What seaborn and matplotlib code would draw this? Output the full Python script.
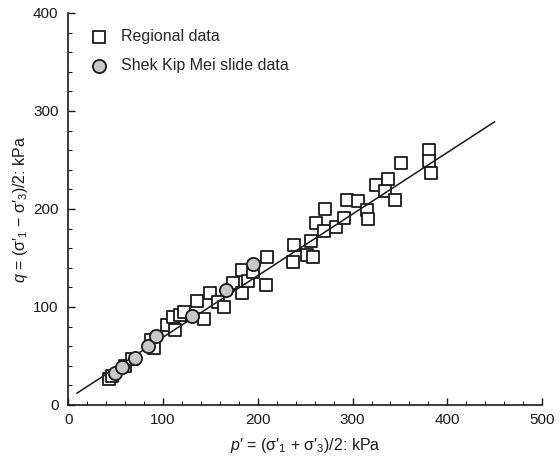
import matplotlib
matplotlib.use("Agg")
import matplotlib.pyplot as plt
import seaborn as sns
import pandas as pd
from matplotlib.ticker import MultipleLocator

# Regional data (p', q) in kPa
regional_p = [43, 46, 60, 67, 87, 90, 104, 113, 111, 118, 122, 136, 143, 150, 158, 164,
              174, 183, 183, 190, 195, 209, 210, 237, 238, 252, 256, 258, 261, 270, 271,
              282, 291, 294, 306, 315, 316, 325, 334, 337, 345, 351, 381, 381, 383]
regional_q = [27, 30, 40, 47, 66, 58, 82, 76, 90, 92, 95, 106, 88, 114, 105, 100,
              124, 114, 138, 126, 136, 122, 151, 146, 163, 153, 167, 151, 186, 177, 200,
              182, 191, 209, 208, 199, 190, 224, 218, 231, 209, 247, 260, 249, 237]

# Shek Kip Mei slide data
skm_p = [49, 57, 70, 84, 93, 131, 166, 195]
skm_q = [33, 39, 48, 60, 70, 91, 117, 144]

# Fitted line end points
fit_p = [9, 450]
fit_q = [12, 289]

sns.set_theme(style="white")
plt.rcParams['font.family'] = ['Liberation Sans', 'DejaVu Sans']
plt.rcParams['mathtext.fontset'] = 'custom'
plt.rcParams['mathtext.rm'] = 'Liberation Sans'
plt.rcParams['mathtext.it'] = 'Liberation Sans:italic'

fig = plt.figure(figsize=(5.6, 4.61), dpi=100)
ax = fig.add_axes([0.122, 0.1215, 0.846, 0.8505])

reg = pd.DataFrame({"p": regional_p, "q": regional_q})
skm = pd.DataFrame({"p": skm_p, "q": skm_q})
fit = pd.DataFrame({"p": fit_p, "q": fit_q})

sns.scatterplot(data=reg, x="p", y="q", marker="s", s=85, facecolor="white",
                edgecolor="#1a1a1a", linewidth=1.3, ax=ax, zorder=2,
                label="Regional data")
sns.lineplot(data=fit, x="p", y="q", color="#1a1a1a", linewidth=1.1, ax=ax,
             zorder=3, legend=False)
sns.scatterplot(data=skm, x="p", y="q", marker="o", s=90, facecolor="#c8c8c8",
                edgecolor="#1a1a1a", linewidth=1.3, ax=ax, zorder=4,
                label="Shek Kip Mei slide data")

ax.set_xlim(0, 500)
ax.set_ylim(0, 400)
ax.xaxis.set_major_locator(MultipleLocator(100))
ax.xaxis.set_minor_locator(MultipleLocator(20))
ax.yaxis.set_major_locator(MultipleLocator(100))
ax.yaxis.set_minor_locator(MultipleLocator(20))
ax.tick_params(which="major", direction="in", length=5, width=1, color="#1a1a1a",
               labelsize=11, labelcolor="#1a1a1a", bottom=True, left=True)
ax.tick_params(axis="x", which="major", pad=6)
ax.tick_params(axis="y", which="major", pad=7)
ax.tick_params(which="minor", direction="in", length=3, width=0.8, color="#1a1a1a",
               bottom=True, left=True)
for s in ["top", "right"]:
    ax.spines[s].set_visible(False)
for s in ["left", "bottom"]:
    ax.spines[s].set_color("#1a1a1a")
    ax.spines[s].set_linewidth(1.2)

ax.set_xlabel(r"$p$′ = (σ′$_1$ + σ′$_3$)/2: kPa", fontsize=11.5, color="#1a1a1a", labelpad=6)
ax.set_ylabel(r"$q$ = (σ′$_1$ − σ′$_3$)/2: kPa", fontsize=11.5, color="#1a1a1a", labelpad=2)

leg = ax.legend(loc="upper left", bbox_to_anchor=(0.0, 0.995), frameon=False,
                fontsize=11.5, handletextpad=0.4, labelspacing=0.85)

fig.savefig("out.png", dpi=100)
